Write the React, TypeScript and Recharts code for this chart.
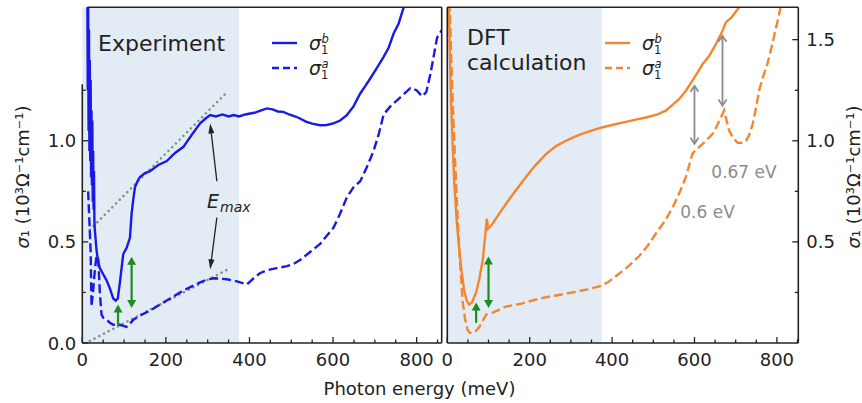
import React from "react";
import { ComposedChart, Line, XAxis, YAxis, ReferenceArea, ReferenceLine } from "recharts";

// ---- data (meV, 10^3 Ohm^-1 cm^-1) ----
const expBX = [12, 13, 14, 15, 16, 17, 18, 19, 20, 21, 22, 23, 24, 25, 26, 27, 28, 29, 30, 34, 38, 42, 50, 58, 66, 74, 80, 85, 90, 98, 106, 114, 118, 122, 126, 132, 138, 150, 162, 182, 202, 222, 242, 262, 282, 295, 306, 320, 335, 350, 362, 375, 390, 402, 415, 428, 442, 455, 468, 481, 495, 510, 521, 535, 550, 569, 585, 601, 617, 633, 649, 665, 677, 689, 705, 721, 733, 745, 757, 769, 780];
const expBY = [1.8, 1.25, 1.7, 1.05, 1.55, 0.95, 1.4, 0.9, 1.3, 0.82, 1.15, 0.78, 1.1, 0.7, 0.95, 0.66, 0.85, 0.6, 0.56, 0.46, 0.4, 0.37, 0.34, 0.31, 0.27, 0.22, 0.21, 0.22, 0.3, 0.44, 0.47, 0.52, 0.64, 0.71, 0.77, 0.8, 0.82, 0.84, 0.85, 0.88, 0.9, 0.94, 0.97, 1.03, 1.086, 1.11, 1.127, 1.12, 1.13, 1.12, 1.127, 1.12, 1.13, 1.135, 1.14, 1.15, 1.16, 1.155, 1.145, 1.143, 1.13, 1.12, 1.11, 1.095, 1.085, 1.077, 1.078, 1.086, 1.1, 1.127, 1.17, 1.234, 1.27, 1.308, 1.36, 1.415, 1.46, 1.53, 1.58, 1.66, 1.72];

const expAX = [14, 18, 20, 22, 26, 30, 34, 38, 42, 46, 50, 58, 66, 74, 82, 90, 98, 106, 114, 122, 142, 162, 182, 202, 222, 242, 262, 282, 300, 315, 330, 346, 370, 394, 410, 425, 442, 465, 490, 505, 521, 545, 569, 585, 601, 617, 633, 649, 665, 681, 697, 709, 721, 737, 753, 769, 785, 800, 813, 823, 833, 841, 849, 861];
const expAY = [0.75, 0.55, 0.45, 0.18, 0.26, 0.36, 0.43, 0.42, 0.25, 0.14, 0.125, 0.115, 0.1, 0.09, 0.09, 0.09, 0.085, 0.08, 0.095, 0.115, 0.14, 0.16, 0.185, 0.21, 0.235, 0.26, 0.28, 0.3, 0.315, 0.32, 0.318, 0.315, 0.305, 0.29, 0.32, 0.345, 0.36, 0.37, 0.38, 0.39, 0.41, 0.45, 0.49, 0.53, 0.57, 0.64, 0.72, 0.77, 0.8, 0.87, 0.95, 1.03, 1.13, 1.17, 1.2, 1.23, 1.26, 1.25, 1.22, 1.24, 1.33, 1.42, 1.51, 1.55];

// linear guides for E_max
const fitHighX = [18, 346];
const fitHighY = [0.56, 1.24];
const fitLowX = [18, 354];
const fitLowY = [0.01, 0.37];

const dftBX = [3, 6, 9, 13, 17, 23, 29, 35, 41, 47, 53, 60, 70, 78, 86, 92, 96, 99, 110, 126, 150, 183, 210, 240, 265, 288, 310, 328, 350, 377, 400, 425, 455, 482, 510, 531, 548, 563, 580, 595, 608, 620, 636, 652, 665, 676, 690, 701, 713];
const dftBY = [1.75, 1.45, 1.2, 0.98, 0.79, 0.6, 0.46, 0.35, 0.26, 0.21, 0.19, 0.2, 0.25, 0.32, 0.41, 0.53, 0.615, 0.565, 0.59, 0.64, 0.71, 0.8, 0.87, 0.935, 0.975, 1.0, 1.02, 1.035, 1.05, 1.067, 1.078, 1.09, 1.103, 1.115, 1.13, 1.15, 1.18, 1.207, 1.25, 1.297, 1.34, 1.38, 1.42, 1.478, 1.53, 1.585, 1.61, 1.64, 1.67];

const dftAX = [5, 9, 13, 19, 25, 31, 37, 43, 49, 55, 61, 70, 78, 86, 94, 110, 142, 180, 223, 264, 304, 340, 369, 390, 409, 440, 466, 486, 506, 527, 547, 563, 579, 595, 603, 612, 628, 644, 656, 664, 672, 678, 684, 695, 705, 715, 725, 733, 741, 749, 757, 767, 777, 788, 798, 806, 812];
const dftAY = [1.75, 1.45, 1.2, 0.9, 0.62, 0.4, 0.21, 0.12, 0.065, 0.05, 0.05, 0.06, 0.08, 0.11, 0.14, 0.15, 0.18, 0.195, 0.22, 0.235, 0.25, 0.265, 0.28, 0.3, 0.33, 0.38, 0.43, 0.48, 0.54, 0.6, 0.67, 0.74, 0.82, 0.935, 0.955, 0.97, 1.0, 1.035, 1.08, 1.115, 1.15, 1.1, 1.05, 1.01, 0.99, 0.99, 1.0, 1.03, 1.08, 1.16, 1.25, 1.32, 1.38, 1.47, 1.56, 1.63, 1.7];

const xTicks = [0, 50, 100, 150, 200, 250, 300, 350, 400, 450, 500, 550, 600, 650, 700, 750, 800, 850];
const leftYTicks = [0, 0.25, 0.5, 0.75, 1.0, 1.25];
const rightYTicks = [0.25, 0.5, 0.75, 1.0, 1.25, 1.5];
const Y_MAX = 1.66;
const SHADE_END = 375;

const BLUE = "#1a1ae6";
const ORANGE = "#f5862e";
const GREEN = "#1e8c1e";
const GREY = "#8c8c8c";
const INK = "#222";
const FONT = "DejaVu Sans";

const zip = (xs: number[], ys: number[]) => xs.map((x, i) => ({ x, y: ys[i] }));

// ---- ticks (matplotlib style, pointing inward) ----
const XTick = (p: any) => {
  const { x, y, payload } = p;
  const major = payload.value % 200 === 0;
  return (
    <g>
      <line x1={x} y1={y} x2={x} y2={y - (major ? 6 : 3.5)} stroke={INK} strokeWidth={1.3} />
      {major && (
        <text x={x} y={y + 23} textAnchor="middle" fontSize={18} fontFamily={FONT} fill={INK}>
          {payload.value}
        </text>
      )}
    </g>
  );
};

const isHalf = (v: number) => Math.abs(v * 2 - Math.round(v * 2)) < 1e-6;

const LeftYTick = (p: any) => {
  const { x, y, payload } = p;
  const major = isHalf(payload.value);
  return (
    <g>
      <line x1={x} y1={y} x2={x + (major ? 6 : 3.5)} y2={y} stroke={INK} strokeWidth={1.3} />
      {major && (
        <text x={x - 6} y={y + 6.5} textAnchor="end" fontSize={18} fontFamily={FONT} fill={INK}>
          {payload.value.toFixed(1)}
        </text>
      )}
    </g>
  );
};

const RightYTick = (withLabel: boolean) => (p: any) => {
  const { x, y, payload } = p;
  const major = isHalf(payload.value);
  return (
    <g>
      <line x1={x} y1={y} x2={x - (major ? 6 : 3.5)} y2={y} stroke={INK} strokeWidth={1.3} />
      {withLabel && major && (
        <text x={x + 8} y={y + 6.5} textAnchor="start" fontSize={18} fontFamily={FONT} fill={INK}>
          {payload.value.toFixed(1)}
        </text>
      )}
    </g>
  );
};

// ---- arrows drawn as ReferenceLine shapes ----
function arrow(color: string, both: boolean, open: boolean, sw: number, hl: number, hw: number) {
  return (p: any) => {
    const { x1, y1, x2, y2 } = p;
    const dx = x2 - x1;
    const dy = y2 - y1;
    const len = Math.hypot(dx, dy) || 1;
    const ux = dx / len;
    const uy = dy / len;
    const head = (tx: number, ty: number, vx: number, vy: number) => {
      const bx = tx - vx * hl;
      const by = ty - vy * hl;
      const pts = `${bx - vy * hw},${by + vx * hw} ${tx},${ty} ${bx + vy * hw},${by - vx * hw}`;
      return open ? (
        <polyline points={pts} fill="none" stroke={color} strokeWidth={sw} />
      ) : (
        <polygon points={pts} fill={color} stroke="none" />
      );
    };
    const sx = both && !open ? x1 + ux * hl * 0.8 : x1;
    const sy = both && !open ? y1 + uy * hl * 0.8 : y1;
    const ex = open ? x2 : x2 - ux * hl * 0.8;
    const ey = open ? y2 : y2 - uy * hl * 0.8;
    return (
      <g>
        <line x1={sx} y1={sy} x2={ex} y2={ey} stroke={color} strokeWidth={sw} />
        {head(x2, y2, ux, uy)}
        {both && head(x1, y1, -ux, -uy)}
      </g>
    );
  };
}

const greenSingle = arrow(GREEN, false, false, 2.2, 8, 4.5);
const greenDouble = arrow(GREEN, true, false, 2.2, 8, 4.5);
const blackArrow = arrow(INK, false, false, 1.3, 10, 3);
const greyDouble = arrow(GREY, true, true, 1.8, 6, 4);

const seg = (x1: number, y1: number, x2: number, y2: number) => [
  { x: x1, y: y1 },
  { x: x2, y: y2 },
];

const frame = { stroke: INK, strokeWidth: 1.6, ifOverflow: "visible" as const };

function Sigma({ x, y, sup }: { x: number; y: number; sup: string }) {
  return (
    <g fontFamily={FONT} fill={INK}>
      <text x={x} y={y} fontSize={19} fontStyle="italic">σ</text>
      <text x={x + 12} y={y + 3.5} fontSize={11.5}>1</text>
      <text x={x + 12.5} y={y - 7.5} fontSize={11.5} fontStyle="italic">{sup}</text>
    </g>
  );
}

function YLabel({ x, y }: { x: number; y: number }) {
  return (
    <text x={x} y={y} transform={`rotate(-90 ${x} ${y})`} textAnchor="middle" fontSize={18} fontFamily={FONT} fill={INK}>
      <tspan fontStyle="italic">σ</tspan>₁ (10³Ω⁻¹cm⁻¹)
    </text>
  );
}

export default function App() {
  const expB = zip(expBX, expBY);
  const expA = zip(expAX, expAY);
  const fitHigh = zip(fitHighX, fitHighY);
  const fitLow = zip(fitLowX, fitLowY);
  const dftB = zip(dftBX, dftBY);
  const dftA = zip(dftAX, dftAY);

  const lineProps = { type: "linear" as const, dataKey: "y", dot: false, isAnimationActive: false, activeDot: false };

  return (
    <div style={{ position: "absolute", left: 0, top: 0, width: 862, height: 403, background: "#fff", fontFamily: FONT }}>
      {/* Experiment panel */}
      <div style={{ position: "absolute", left: 0, top: 0 }}>
        <ComposedChart width={862} height={403} margin={{ top: 7.3, left: 22.3, right: 420.3, bottom: 20 }}>
          <XAxis dataKey="x" type="number" domain={[0, 860]} allowDataOverflow ticks={xTicks} interval={0}
            height={40} tickSize={0} tickMargin={0} tickLine={false} axisLine={false} tick={XTick} />
          <YAxis type="number" domain={[0, Y_MAX]} allowDataOverflow ticks={leftYTicks} interval={0}
            width={60} tickSize={0} tickMargin={0} tickLine={false} axisLine={false} tick={LeftYTick} />
          <YAxis yAxisId="r" orientation="right" type="number" domain={[0, Y_MAX]} allowDataOverflow ticks={leftYTicks}
            interval={0} width={0} tickSize={0} tickMargin={0} tickLine={false} axisLine={false} tick={RightYTick(false)} />
          <ReferenceArea x1={0} x2={SHADE_END} y1={0} y2={Y_MAX} fill="#e3ecf5" fillOpacity={1} stroke="none" ifOverflow="visible" />
          <Line {...lineProps} data={fitHigh} stroke={GREY} strokeWidth={2.6} strokeDasharray="0.1 5.2" strokeLinecap="round" />
          <Line {...lineProps} data={fitLow} stroke={GREY} strokeWidth={2.6} strokeDasharray="0.1 5.2" strokeLinecap="round" />
          <Line {...lineProps} data={expA} stroke={BLUE} strokeWidth={2.4} strokeDasharray="9 4" />
          <Line {...lineProps} data={expB} stroke={BLUE} strokeWidth={2.4} />
          <ReferenceLine segment={seg(322, 0.8, 306, 1.086)} shape={blackArrow} ifOverflow="visible" />
          <ReferenceLine segment={seg(322, 0.62, 306, 0.365)} shape={blackArrow} ifOverflow="visible" />
          <ReferenceLine segment={seg(85.5, 0.085, 85.5, 0.19)} shape={greenSingle} ifOverflow="visible" />
          <ReferenceLine segment={seg(118, 0.173, 118, 0.427)} shape={greenDouble} ifOverflow="visible" />
          <ReferenceLine segment={seg(0, 0, 0, 1.28)} {...frame} />
          <ReferenceLine segment={seg(12, Y_MAX, 860, Y_MAX)} {...frame} />
          <ReferenceLine segment={seg(0, 0, 860, 0)} {...frame} />
          <ReferenceLine segment={seg(860, 0, 860, Y_MAX)} {...frame} />
        </ComposedChart>
      </div>

      {/* DFT panel */}
      <div style={{ position: "absolute", left: 0, top: 0 }}>
        <ComposedChart width={862} height={403} margin={{ top: 7.3, left: 447.3, right: 3.7, bottom: 20 }}>
          <XAxis dataKey="x" type="number" domain={[0, 852]} allowDataOverflow ticks={xTicks} interval={0}
            height={40} tickSize={0} tickMargin={0} tickLine={false} axisLine={false} tick={XTick} />
          <YAxis orientation="right" type="number" domain={[0, Y_MAX]} allowDataOverflow ticks={rightYTicks} interval={0}
            width={60} tickSize={0} tickMargin={0} tickLine={false} axisLine={false} tick={RightYTick(true)} />
          <ReferenceArea x1={0} x2={SHADE_END} y1={0} y2={Y_MAX} fill="#e3ecf5" fillOpacity={1} stroke="none" ifOverflow="visible" />
          <Line {...lineProps} data={dftA} stroke={ORANGE} strokeWidth={2.4} strokeDasharray="9 4" />
          <Line {...lineProps} data={dftB} stroke={ORANGE} strokeWidth={2.4} />
          <ReferenceLine segment={seg(70, 0.1, 70, 0.2)} shape={greenSingle} ifOverflow="visible" />
          <ReferenceLine segment={seg(100, 0.173, 100, 0.428)} shape={greenDouble} ifOverflow="visible" />
          <ReferenceLine segment={seg(600, 0.985, 600, 1.272)} shape={greyDouble} ifOverflow="visible" />
          <ReferenceLine segment={seg(668, 1.174, 668, 1.519)} shape={greyDouble} ifOverflow="visible" />
          <ReferenceLine segment={seg(0, 0, 0, Y_MAX)} {...frame} />
          <ReferenceLine segment={seg(0, Y_MAX, 852, Y_MAX)} {...frame} />
          <ReferenceLine segment={seg(0, 0, 852, 0)} {...frame} />
          <ReferenceLine segment={seg(852, 0, 852, Y_MAX)} {...frame} />
        </ComposedChart>
      </div>

      {/* texts, legends */}
      <svg width={862} height={403} style={{ position: "absolute", left: 0, top: 0, pointerEvents: "none" }}>
        <text x={98} y={51} fontSize={22} fontFamily={FONT} fill={INK}>Experiment</text>
        <line x1={272} y1={43} x2={297} y2={43} stroke={BLUE} strokeWidth={2.4} />
        <line x1={272} y1={68} x2={297} y2={68} stroke={BLUE} strokeWidth={2.4} strokeDasharray="7 4" />
        <Sigma x={309} y={50} sup="b" />
        <Sigma x={309} y={75} sup="a" />

        <text x={467} y={45} fontSize={22} fontFamily={FONT} fill={INK}>DFT</text>
        <text x={467} y={69.5} fontSize={22} fontFamily={FONT} fill={INK}>calculation</text>
        <line x1={605} y1={43} x2={630} y2={43} stroke={ORANGE} strokeWidth={2.4} />
        <line x1={605} y1={68} x2={630} y2={68} stroke={ORANGE} strokeWidth={2.4} strokeDasharray="7 4" />
        <Sigma x={642} y={50} sup="b" />
        <Sigma x={642} y={75} sup="a" />

        <g fontFamily={FONT} fill={INK} fontStyle="italic">
          <text x={207} y={208} fontSize={19}>E</text>
          <text x={220} y={212} fontSize={14}>max</text>
        </g>
        <text x={744} y={178} textAnchor="middle" fontSize={17} fontFamily={FONT} fill={GREY}>0.67 eV</text>
        <text x={707.5} y={218} textAnchor="middle" fontSize={17} fontFamily={FONT} fill={GREY}>0.6 eV</text>

        <text x={419.5} y={395} textAnchor="middle" fontSize={18} fontFamily={FONT} fill={INK}>Photon energy (meV)</text>
        <YLabel x={29} y={177} />
        <YLabel x={860} y={177} />
      </svg>
    </div>
  );
}
